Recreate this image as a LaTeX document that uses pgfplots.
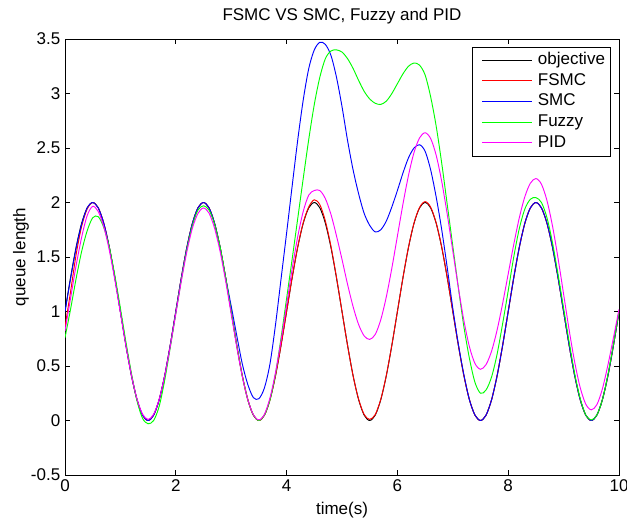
\documentclass[border=0pt]{standalone}
\usepackage{fontspec}
\setmainfont{Liberation Sans}
\usepackage{pgfplots}
\usepackage{pgfplotstable}
\pgfplotsset{compat=1.18}
\definecolor{mred}{rgb}{1,0,0}
\definecolor{mblue}{rgb}{0,0,1}
\definecolor{mgreen}{rgb}{0,1,0}
\definecolor{mmag}{rgb}{1,0,1}
\newcommand{\fs}{\fontsize{12.75}{15}\selectfont}
\pgfplotstableread{
t o f s z p
0.0 1.000 0.860 1.000 0.760 0.820
0.1 1.309 1.180 1.300 1.020 1.120
0.2 1.588 1.520 1.580 1.300 1.420
0.3 1.809 1.780 1.800 1.550 1.680
0.4 1.951 1.940 1.950 1.740 1.880
0.5 2.000 2.000 2.000 1.860 1.965
0.6 1.951 1.951 1.951 1.870 1.917
0.7 1.809 1.809 1.809 1.770 1.778
0.8 1.588 1.588 1.588 1.590 1.562
0.9 1.309 1.309 1.309 1.330 1.290
1.0 1.000 1.000 1.000 1.030 0.988
1.1 0.691 0.691 0.691 0.720 0.685
1.2 0.412 0.412 0.412 0.430 0.413
1.3 0.191 0.191 0.191 0.180 0.197
1.4 0.049 0.049 0.049 0.020 0.058
1.5 0.000 0.000 0.000 -0.030 0.010
1.6 0.049 0.049 0.049 0.000 0.058
1.7 0.191 0.191 0.191 0.130 0.195
1.8 0.412 0.412 0.412 0.370 0.410
1.9 0.691 0.691 0.691 0.670 0.680
2.0 1.000 1.000 1.000 0.980 0.980
2.1 1.309 1.309 1.309 1.290 1.280
2.2 1.588 1.588 1.588 1.570 1.550
2.3 1.809 1.809 1.809 1.790 1.765
2.4 1.951 1.951 1.951 1.930 1.900
2.5 2.000 2.000 2.000 1.970 1.950
2.6 1.951 1.951 1.951 1.930 1.902
2.7 1.809 1.809 1.809 1.800 1.764
2.8 1.588 1.588 1.588 1.590 1.549
2.9 1.309 1.309 1.309 1.310 1.278
3.0 1.000 1.000 1.050 1.000 0.978
3.1 0.691 0.691 0.780 0.690 0.677
3.2 0.412 0.412 0.520 0.410 0.406
3.3 0.191 0.191 0.330 0.190 0.191
3.4 0.049 0.049 0.210 0.050 0.053
3.5 0.000 0.000 0.200 0.000 0.005
3.6 0.049 0.049 0.300 0.050 0.057
3.7 0.191 0.191 0.520 0.190 0.207
3.8 0.412 0.412 0.880 0.430 0.441
3.9 0.691 0.691 1.300 0.760 0.736
4.0 1.000 1.000 1.720 1.120 1.060
4.1 1.309 1.310 2.150 1.480 1.390
4.2 1.588 1.590 2.570 1.850 1.685
4.3 1.809 1.815 2.940 2.220 1.918
4.4 1.951 1.960 3.230 2.580 2.068
4.5 2.000 2.025 3.400 2.900 2.110
4.6 1.951 1.980 3.470 3.150 2.110
4.7 1.809 1.830 3.450 3.320 2.035
4.8 1.588 1.600 3.350 3.390 1.892
4.9 1.309 1.315 3.150 3.400 1.695
5.0 1.000 1.000 2.880 3.380 1.478
5.1 0.691 0.690 2.570 3.320 1.250
5.2 0.412 0.410 2.300 3.230 1.045
5.3 0.191 0.195 2.080 3.120 0.880
5.4 0.049 0.055 1.900 3.020 0.776
5.5 0.000 0.010 1.790 2.950 0.744
5.6 0.049 0.055 1.730 2.910 0.790
5.7 0.191 0.195 1.750 2.900 0.925
5.8 0.412 0.414 1.830 2.930 1.135
5.9 0.691 0.692 1.960 3.000 1.399
6.0 1.000 1.000 2.110 3.090 1.692
6.1 1.309 1.310 2.270 3.180 1.985
6.2 1.588 1.590 2.410 3.250 2.249
6.3 1.809 1.812 2.500 3.280 2.459
6.4 1.951 1.955 2.530 3.260 2.593
6.5 2.000 2.008 2.470 3.170 2.640
6.6 1.951 1.958 2.300 2.970 2.587
6.7 1.809 1.812 2.050 2.700 2.433
6.8 1.588 1.590 1.750 2.360 2.193
6.9 1.309 1.310 1.400 1.980 1.890
7.0 1.000 1.000 1.030 1.600 1.555
7.1 0.691 0.691 0.700 1.220 1.220
7.2 0.412 0.412 0.420 0.860 0.917
7.3 0.191 0.191 0.190 0.570 0.677
7.4 0.049 0.049 0.050 0.350 0.523
7.5 0.000 0.000 0.000 0.250 0.470
7.6 0.049 0.049 0.049 0.280 0.513
7.7 0.191 0.191 0.191 0.400 0.637
7.8 0.412 0.412 0.412 0.610 0.831
7.9 0.691 0.691 0.691 0.890 1.075
8.0 1.000 1.000 1.000 1.190 1.345
8.1 1.309 1.309 1.309 1.500 1.615
8.2 1.588 1.588 1.588 1.760 1.859
8.3 1.809 1.809 1.809 1.940 2.053
8.4 1.951 1.951 1.951 2.030 2.177
8.5 2.000 2.000 2.000 2.045 2.220
8.6 1.951 1.951 1.951 2.000 2.168
8.7 1.809 1.809 1.809 1.860 2.017
8.8 1.588 1.588 1.588 1.630 1.783
8.9 1.309 1.309 1.309 1.340 1.487
9.0 1.000 1.000 1.000 1.030 1.159
9.1 0.691 0.691 0.691 0.720 0.831
9.2 0.412 0.412 0.412 0.430 0.535
9.3 0.191 0.191 0.191 0.200 0.301
9.4 0.049 0.049 0.049 0.050 0.150
9.5 0.000 0.000 0.000 0.005 0.098
9.6 0.049 0.049 0.049 0.050 0.145
9.7 0.191 0.191 0.191 0.190 0.290
9.8 0.412 0.412 0.412 0.420 0.510
9.9 0.691 0.691 0.691 0.700 0.760
10.0 1.000 1.000 1.000 1.000 1.020
}\data
\begin{document}
\begin{tikzpicture}
\useasboundingbox (0,0) rectangle (470.25pt,391.5pt);
\begin{axis}[
  at={(48.75pt,35.25pt)}, anchor=south west,
  scale only axis, width=415.5pt, height=327pt,
  xmin=0, xmax=10, ymin=-0.5, ymax=3.5,
  xtick={0,2,4,6,8,10},
  ytick={-0.5,0,0.5,1,1.5,2,2.5,3,3.5},
  /pgf/number format/assume math mode=true,
  tick label style={font=\fs},
  major tick length=3.75pt,
  tick align=inside,
  axis line style={line width=0.6pt},
  every tick/.style={black, line width=0.6pt},
  every axis title shift=0pt,
  title={FSMC VS SMC, Fuzzy and PID},
  title style={font=\fs, at={(axis description cs:0.5,1.0413)}, anchor=base},
  xlabel={time(s)},
  xlabel style={font=\fs, at={(axis description cs:0.5,-0.0906)}, anchor=base},
  ylabel={queue length},
  ylabel style={font=\fs, at={(axis description cs:-0.0714,0.5)}, anchor=base},
  legend cell align=left,
  legend image code/.code={\path (0pt,0pt); \draw[#1] (4.25pt,0pt) -- (41.75pt,0pt);},
  legend style={at={(axis description cs:0.985,0.9823)}, anchor=north east,
    draw=black, line width=0.6pt, fill=white, font=\fs,
    inner xsep=3pt, inner ysep=2.8pt, row sep=1.5pt, column sep=3pt,
    nodes={inner sep=1pt, text height=9.2pt, text depth=2.8pt}},
  every axis plot/.append style={line width=0.7pt, smooth, no markers},
]
\addplot[black] table[x=t,y=o]{\data};
\addlegendentry{objective}
\addplot[mred] table[x=t,y=f]{\data};
\addlegendentry{FSMC}
\addplot[mblue] table[x=t,y=s]{\data};
\addlegendentry{SMC}
\addplot[mgreen] table[x=t,y=z]{\data};
\addlegendentry{Fuzzy}
\addplot[mmag] table[x=t,y=p]{\data};
\addlegendentry{PID}
\end{axis}
\end{tikzpicture}
\end{document}
